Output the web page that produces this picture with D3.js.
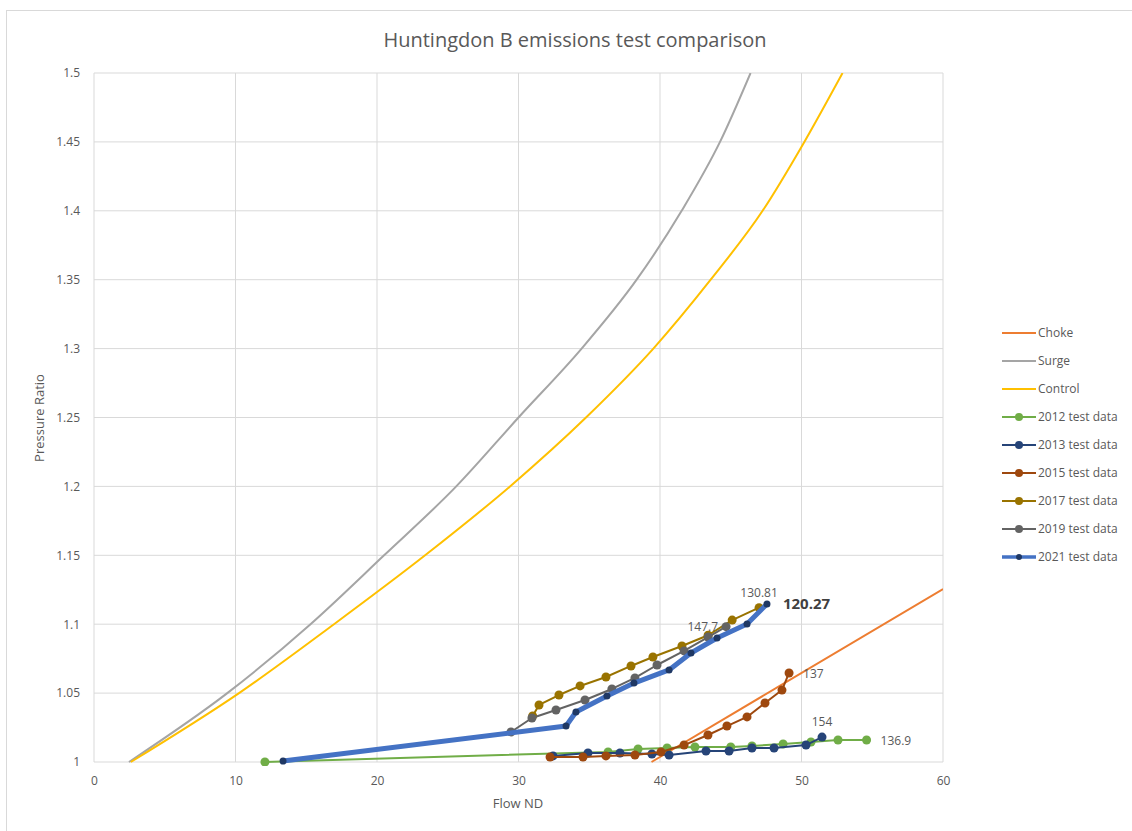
<!DOCTYPE html>
<html>
<head>
<meta charset="utf-8">
<script src="https://cdn.jsdelivr.net/npm/d3@7"></script>
<style>
  body { margin: 0; background: #fff; }
  svg { display: block; font-family: "Open Sans", "Liberation Sans", sans-serif; }
</style>
</head>
<body>
<div id="chart"></div>
<script>
const TITLE = "Huntingdon B emissions test comparison";
const flowTicks = [0, 10, 20, 30, 40, 50, 60];
const pressureTicks = [1, 1.05, 1.1, 1.15, 1.2, 1.25, 1.3, 1.35, 1.4, 1.45, 1.5];

// reference curves [flow, pressure ratio]
const choke = [[39.4, 1.0], [60, 1.1255]];
const surge = [[2.47, 1.0], [9.42, 1.05], [15.3, 1.1], [20.5, 1.15], [25.6, 1.2], [30.0, 1.25],
  [34.46, 1.3], [38.35, 1.35], [41.53, 1.4], [44.24, 1.45], [46.4, 1.5]];
const control = [[2.6, 1.0], [10.25, 1.05], [16.96, 1.1], [23.4, 1.15], [29.4, 1.2], [34.77, 1.25],
  [39.53, 1.3], [43.58, 1.35], [47.25, 1.4], [50.2, 1.45], [52.9, 1.5]];

// test data
const test2012 = [[12.08, 1.0], [36.33, 1.0073], [38.45, 1.0094], [40.5, 1.0102], [42.47, 1.0109],
  [45.0, 1.0109], [46.5, 1.0116], [48.7, 1.0131], [50.67, 1.0145], [52.58, 1.016], [54.6, 1.016]];
const test2013 = [[32.44, 1.0044], [34.91, 1.0065], [37.17, 1.0065], [39.43, 1.0058], [40.64, 1.0051],
  [43.25, 1.008], [44.88, 1.008], [46.5, 1.0102], [48.06, 1.0102], [50.32, 1.0123], [51.45, 1.0181]];
const test2015 = [[32.23, 1.0036], [34.56, 1.0036], [36.18, 1.0044], [38.23, 1.0051], [40.07, 1.0073],
  [41.7, 1.0123], [43.39, 1.0196], [44.73, 1.0261], [46.15, 1.0327], [47.42, 1.0428], [48.62, 1.0522], [49.12, 1.0646]];
const test2017 = [[31.0, 1.0334], [31.45, 1.0414], [32.86, 1.0486], [34.35, 1.0552], [36.18, 1.0617],
  [37.95, 1.0697], [39.5, 1.0762], [41.55, 1.0842], [43.4, 1.092], [45.1, 1.103], [47.0, 1.112]];
const test2019 = [[29.47, 1.0218], [30.95, 1.0319], [32.65, 1.0377], [34.7, 1.045], [36.6, 1.053],
  [38.23, 1.061], [39.79, 1.0704], [41.7, 1.0806], [43.4, 1.0907], [44.67, 1.0982]];
const test2021 = [[13.36, 1.0007], [33.36, 1.0261], [34.06, 1.0363], [36.25, 1.0479], [38.16, 1.0573],
  [40.64, 1.0668], [42.19, 1.0791], [44.03, 1.09], [46.15, 1.1001], [47.56, 1.1147]];

const series = [
  { name: "Choke", data: choke, line: "#ED7D31" },
  { name: "Surge", data: surge, line: "#A5A5A5", smooth: true },
  { name: "Control", data: control, line: "#FFC000", smooth: true },
  { name: "2012 test data", data: test2012, line: "#70AD47", marker: "#70AD47", r: 4.5 },
  { name: "2013 test data", data: test2013, line: "#264478", marker: "#264478", r: 4.5 },
  { name: "2015 test data", data: test2015, line: "#9E480E", marker: "#9E480E", r: 4.5 },
  { name: "2017 test data", data: test2017, line: "#997300", marker: "#997300", r: 4.5 },
  { name: "2019 test data", data: test2019, line: "#636363", marker: "#636363", r: 4.5 },
  { name: "2021 test data", data: test2021, line: "#4472C4", marker: "#1F3864", r: 3.5, width: 5 }
];

// data labels: series index, point index, text
const labels = [
  { s: 7, i: 9, text: "147.7", pos: "left" },
  { s: 6, i: 10, text: "130.81", pos: "above" },
  { s: 8, i: 9, text: "120.27", pos: "right", bold: true },
  { s: 5, i: 11, text: "137", pos: "right" },
  { s: 4, i: 10, text: "154", pos: "above" },
  { s: 3, i: 10, text: "136.9", pos: "right" }
];

const W = 1132, H = 831;
const margin = { left: 94, top: 73, right: 1132 - 943, bottom: 831 - 762 };
const svg = d3.select("#chart").append("svg").attr("width", W).attr("height", H);

svg.append("rect")
  .attr("x", 6.5).attr("y", 10.5).attr("width", 1140).attr("height", 840)
  .attr("fill", "#fff").attr("stroke", "#d9d9d9");

const x = d3.scaleLinear().domain([0, 60]).range([margin.left, W - margin.right]);
const y = d3.scaleLinear().domain([1, 1.5]).range([H - margin.bottom, margin.top]);

svg.append("text")
  .attr("x", 575).attr("y", 47)
  .attr("text-anchor", "middle")
  .attr("font-size", 20).attr("fill", "#595959")
  .text(TITLE);

// gridlines
const grid = svg.append("g");
grid.selectAll("line.v").data(flowTicks).join("line")
  .attr("x1", d => x(d)).attr("x2", d => x(d))
  .attr("y1", y(1.5)).attr("y2", y(1))
  .attr("stroke", "#d9d9d9");
grid.selectAll("line.h").data(pressureTicks).join("line")
  .attr("x1", x(0)).attr("x2", x(60))
  .attr("y1", d => y(d)).attr("y2", d => y(d))
  .attr("stroke", "#d9d9d9");

// axes
const xAxis = svg.append("g")
  .attr("transform", `translate(0,${y(1)})`)
  .call(d3.axisBottom(x).tickValues(flowTicks).tickSize(0).tickPadding(14));
const yAxis = svg.append("g")
  .attr("transform", `translate(${x(0)},0)`)
  .call(d3.axisLeft(y).tickValues(pressureTicks).tickSize(0).tickPadding(14).tickFormat(d => d3.format("")(+d.toFixed(2))));
[xAxis, yAxis].forEach(a => {
  a.select(".domain").remove();
  a.selectAll("text").attr("font-size", 12).attr("fill", "#595959").attr("font-family", "Open Sans, sans-serif");
});

svg.append("text")
  .attr("x", 518).attr("y", 808)
  .attr("text-anchor", "middle").attr("font-size", 13).attr("fill", "#595959")
  .text("Flow ND");
svg.append("text")
  .attr("transform", "translate(44,418) rotate(-90)")
  .attr("text-anchor", "middle").attr("font-size", 13).attr("fill", "#595959")
  .text("Pressure Ratio");

// series
svg.append("clipPath").attr("id", "plot-clip")
  .append("rect").attr("x", x(0)).attr("y", y(1.5)).attr("width", x(60) - x(0)).attr("height", y(1) - y(1.5) + 4);

const line = d3.line().x(d => x(d[0])).y(d => y(d[1]));
const smoothLine = d3.line().x(d => x(d[0])).y(d => y(d[1])).curve(d3.curveMonotoneX);
const plot = svg.append("g").attr("clip-path", "url(#plot-clip)");
series.forEach(s => {
  const g = plot.append("g");
  g.append("path")
    .datum(s.data)
    .attr("d", s.smooth ? smoothLine : line)
    .attr("fill", "none")
    .attr("stroke", s.line)
    .attr("stroke-width", s.width || 2)
    .attr("stroke-linejoin", "round");
  if (s.marker) {
    g.selectAll("circle").data(s.data).join("circle")
      .attr("cx", d => x(d[0])).attr("cy", d => y(d[1]))
      .attr("r", s.r).attr("fill", s.marker);
  }
});

// data labels
labels.forEach(l => {
  const p = series[l.s].data[l.i];
  let px = x(p[0]), py = y(p[1]), anchor = "middle";
  if (l.pos === "left") { px -= 8; anchor = "end"; py += 4; }
  if (l.pos === "right") { px += l.bold ? 16 : 14; anchor = "start"; py += 5; }
  if (l.pos === "above") { py -= 11; }
  svg.append("text")
    .attr("x", px).attr("y", py)
    .attr("text-anchor", anchor)
    .attr("font-size", l.bold ? 15 : 12)
    .attr("font-weight", l.bold ? "bold" : "normal")
    .attr("fill", l.bold ? "#404040" : "#595959")
    .text(l.text);
});

// legend
const legend = svg.append("g").attr("transform", "translate(1002,333)");
const item = legend.selectAll("g").data(series).join("g")
  .attr("transform", (d, i) => `translate(0,${i * 28})`);
item.append("line")
  .attr("x1", 0).attr("x2", 34)
  .attr("stroke", d => d.line)
  .attr("stroke-width", d => d.width ? 3.5 : 2);
item.filter(d => d.marker).append("circle")
  .attr("cx", 17).attr("r", d => d.r - 0.5).attr("fill", d => d.marker);
item.append("text")
  .attr("x", 36).attr("dy", "0.35em")
  .attr("font-size", 12).attr("fill", "#595959")
  .text(d => d.name);
</script>
</body>
</html>
